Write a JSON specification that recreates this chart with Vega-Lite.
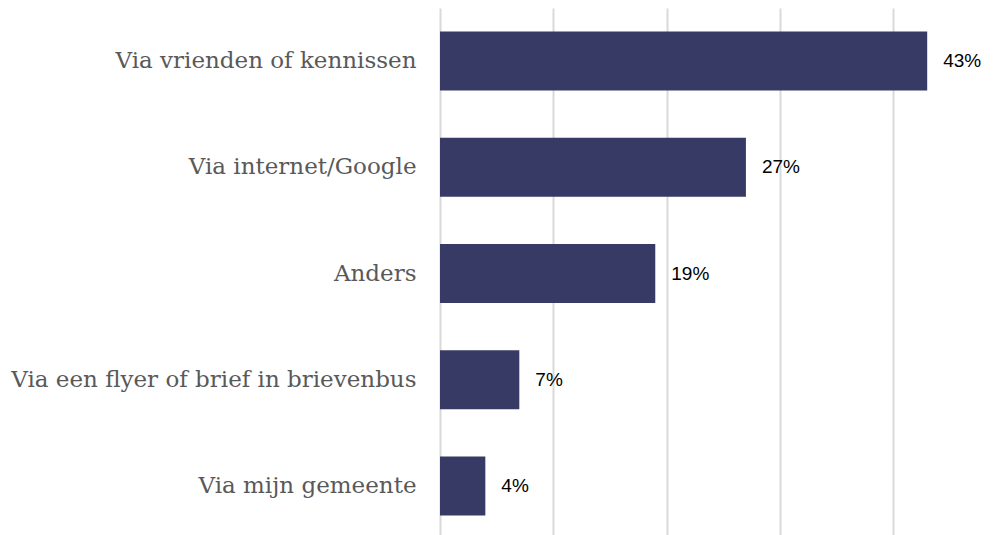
{
  "$schema": "https://vega.github.io/schema/vega-lite/v6.json",
  "autosize": {"type": "none"},
  "padding": {"left": 440, "top": 8, "right": 0, "bottom": 0},
  "width": 557,
  "height": 531,
  "background": "white",
  "config": {"view": {"stroke": null}},
  "data": {"values": [
    {"label": "Via vrienden of kennissen", "share": 0.43},
    {"label": "Via internet/Google", "share": 0.27},
    {"label": "Anders", "share": 0.19},
    {"label": "Via een flyer of brief in brievenbus", "share": 0.07},
    {"label": "Via mijn gemeente", "share": 0.04}
  ]},
  "encoding": {
    "y": {"field": "label", "type": "nominal", "sort": null,
      "scale": {"paddingInner": 0.445, "paddingOuter": 0.22},
      "axis": {"title": null, "domain": false, "ticks": false, "labelFont": "DejaVu Serif", "labelFontSize": 23, "labelColor": "#595959", "labelPadding": 24, "labelLimit": 440}},
    "x": {"field": "share", "type": "quantitative",
      "scale": {"domain": [0, 0.4916], "nice": false, "zero": true},
      "axis": {"title": null, "labels": false, "domain": false, "ticks": false, "values": [0, 0.1, 0.2, 0.3, 0.4], "grid": true, "gridColor": "#d9d9d9", "gridWidth": 2}}
  },
  "layer": [
    {"mark": {"type": "bar", "color": "#373a65"}},
    {"mark": {"type": "text", "align": "left", "dx": 16, "font": "Liberation Sans", "fontSize": 19, "color": "#000000"},
     "encoding": {"text": {"field": "share", "type": "quantitative", "format": ".0%"}}}
  ]
}
